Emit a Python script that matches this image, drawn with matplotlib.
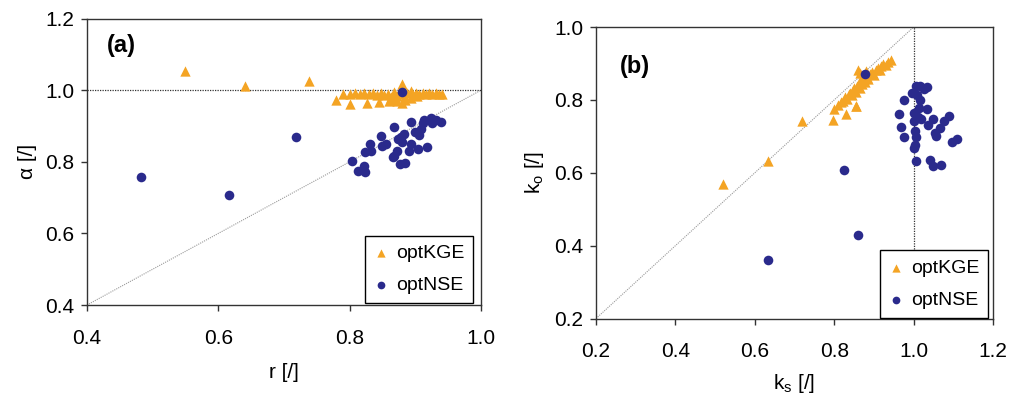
import numpy as np
import matplotlib
matplotlib.use('Agg')
import matplotlib.pyplot as plt

plt.rcParams['font.family'] = ['Liberation Sans', 'DejaVu Sans']

# panel (a): r vs alpha
kge_r = [0.549, 0.640, 0.738, 0.879, 0.779, 0.800, 0.827, 0.845, 0.860, 0.868, 0.893, 0.903,
         0.790, 0.800, 0.808, 0.815, 0.822, 0.830, 0.836, 0.842, 0.848, 0.853, 0.858, 0.863,
         0.868, 0.872, 0.877, 0.884, 0.888, 0.893, 0.897, 0.901, 0.906, 0.911, 0.916, 0.921,
         0.926, 0.931, 0.936, 0.941, 0.885, 0.872, 0.880]
kge_alpha = [1.055, 1.011, 1.025, 1.018, 0.972, 0.961, 0.965, 0.968, 0.969, 0.972, 0.978, 0.984,
             0.990, 0.989, 0.991, 0.988, 0.992, 0.990, 0.993, 0.986, 0.992, 0.987, 0.990, 0.980,
             0.994, 0.984, 0.988, 0.982, 0.991, 0.998, 0.986, 0.992, 0.989, 0.993, 0.988, 0.991,
             0.989, 0.992, 0.989, 0.990, 0.973, 0.969, 0.965]

nse_r = [0.482, 0.616, 0.718, 0.879, 0.804, 0.813, 0.822, 0.823, 0.831, 0.824, 0.833, 0.848,
         0.849, 0.856, 0.868, 0.868, 0.872, 0.876, 0.885, 0.873, 0.878, 0.883, 0.880, 0.890,
         0.893, 0.894, 0.900, 0.904, 0.906, 0.911, 0.913, 0.918, 0.924, 0.926, 0.931, 0.939,
         0.908, 0.866]
nse_alpha = [0.758, 0.708, 0.869, 0.995, 0.802, 0.775, 0.787, 0.771, 0.851, 0.828, 0.829, 0.872,
             0.843, 0.851, 0.896, 0.816, 0.829, 0.794, 0.796, 0.864, 0.870, 0.878, 0.855, 0.831,
             0.911, 0.850, 0.883, 0.837, 0.874, 0.907, 0.916, 0.842, 0.921, 0.907, 0.917, 0.910,
             0.893, 0.813]

# panel (b): ks vs ko
kge_ks = [0.520, 0.633, 0.720, 0.798, 0.830, 0.855,
          0.800, 0.809, 0.816, 0.822, 0.827, 0.832, 0.836, 0.840, 0.844, 0.847, 0.851, 0.854,
          0.858, 0.862, 0.864, 0.867, 0.870, 0.874, 0.878, 0.882, 0.886, 0.890, 0.894, 0.899,
          0.904, 0.909, 0.914, 0.919, 0.924, 0.930, 0.936, 0.942, 0.859, 0.866, 0.855, 0.872,
          0.879]
kge_ko = [0.570, 0.633, 0.743, 0.746, 0.761, 0.784,
          0.776, 0.786, 0.794, 0.798, 0.808, 0.803, 0.816, 0.820, 0.813, 0.826, 0.833, 0.823,
          0.838, 0.846, 0.834, 0.853, 0.843, 0.858, 0.850, 0.864, 0.856, 0.870, 0.876, 0.868,
          0.881, 0.888, 0.883, 0.893, 0.898, 0.896, 0.904, 0.909, 0.882, 0.873, 0.783, 0.868,
          0.878]

nse_ks = [0.878, 0.825, 0.860, 0.634,
          1.005, 1.017, 1.033, 0.997, 1.009, 0.976, 1.017, 1.013, 1.034, 0.964, 1.002, 1.010,
          1.018, 1.048, 1.002, 1.088, 1.077, 0.968, 1.036, 1.066, 1.003, 1.053, 1.007, 1.057,
          0.976, 1.096, 1.109, 1.004, 1.002, 1.005, 1.040, 1.048, 1.068, 1.025]
nse_ko = [0.870, 0.608, 0.428, 0.361,
          0.837, 0.839, 0.836, 0.818, 0.814, 0.801, 0.801, 0.777, 0.775, 0.762, 0.763, 0.754,
          0.747, 0.748, 0.742, 0.755, 0.742, 0.726, 0.731, 0.723, 0.716, 0.710, 0.699, 0.700,
          0.697, 0.685, 0.692, 0.677, 0.667, 0.631, 0.636, 0.618, 0.621, 0.829]

orange = '#F4A424'
navy = '#2A2A8C'

fig = plt.figure(figsize=(10.13, 4.04), dpi=100)
ax1 = fig.add_axes([0.0859, 0.245, 0.3889, 0.709])
ax2 = fig.add_axes([0.5884, 0.2116, 0.3919, 0.7215])

# reference lines
ax1.plot([0.4, 1.0], [0.4, 1.0], color='#9a9a9a', lw=0.8, ls=(0, (1, 1)), zorder=1)
ax1.axhline(1.0, color='#333333', lw=0.9, ls=(0, (1, 1)), zorder=1)
ax2.plot([0.2, 1.0], [0.2, 1.0], color='#9a9a9a', lw=0.8, ls=(0, (1, 1)), zorder=1)
ax2.axvline(1.0, color='#333333', lw=0.9, ls=(0, (1, 1)), zorder=1)

ax1.scatter(kge_r, kge_alpha, marker='^', s=55, color=orange, lw=0, label='optKGE', zorder=2)
ax1.scatter(nse_r, nse_alpha, marker='o', s=48, color=navy, lw=0, label='optNSE', zorder=3)
ax2.scatter(kge_ks, kge_ko, marker='^', s=55, color=orange, lw=0, label='optKGE', zorder=2)
ax2.scatter(nse_ks, nse_ko, marker='o', s=48, color=navy, lw=0, label='optNSE', zorder=3)

ax1.set_xlim(0.4, 1.0)
ax1.set_ylim(0.4, 1.2)
ax1.set_xticks(np.arange(0.4, 1.01, 0.2))
ax1.set_yticks(np.arange(0.4, 1.21, 0.2))
ax2.set_xlim(0.2, 1.2)
ax2.set_ylim(0.2, 1.0)
ax2.set_xticks(np.arange(0.2, 1.21, 0.2))
ax2.set_yticks(np.arange(0.2, 1.01, 0.2))

for ax, anchor in ((ax1, (0.98, 0.007)), (ax2, (0.987, 0.003))):
    ax.xaxis.set_major_formatter(matplotlib.ticker.FormatStrFormatter('%.1f'))
    ax.yaxis.set_major_formatter(matplotlib.ticker.FormatStrFormatter('%.1f'))
    ax.tick_params(direction='out', length=4, width=1, labelsize=15, color='#333333')
    ax.tick_params(axis='x', pad=13)
    ax.tick_params(axis='y', pad=5)
    for sp in ax.spines.values():
        sp.set_color('#333333')
        sp.set_linewidth(1.0)
    leg = ax.legend(loc='lower right', bbox_to_anchor=anchor, fontsize=14,
                    fancybox=False, framealpha=1, edgecolor='black', markerscale=0.8,
                    handlelength=0.8, handletextpad=0.35, borderpad=0.45, labelspacing=0.75,
                    borderaxespad=0)
    leg.get_frame().set_linewidth(1.0)

ax1.text(0.05, 0.945, '(a)', transform=ax1.transAxes, fontsize=17, fontweight='bold', va='top')
ax2.text(0.06, 0.905, '(b)', transform=ax2.transAxes, fontsize=17, fontweight='bold', va='top')

ax1.set_xlabel('r [/]', fontsize=15, labelpad=11)
ax1.set_ylabel('\u03b1 [/]', fontsize=15, labelpad=6)
ax2.set_xlabel(r'k$_\mathregular{s}$ [/]', fontsize=15, labelpad=8)
ax2.set_ylabel(r'k$_\mathregular{o}$ [/]', fontsize=15, labelpad=6)

fig.savefig('out.png', dpi=100)
